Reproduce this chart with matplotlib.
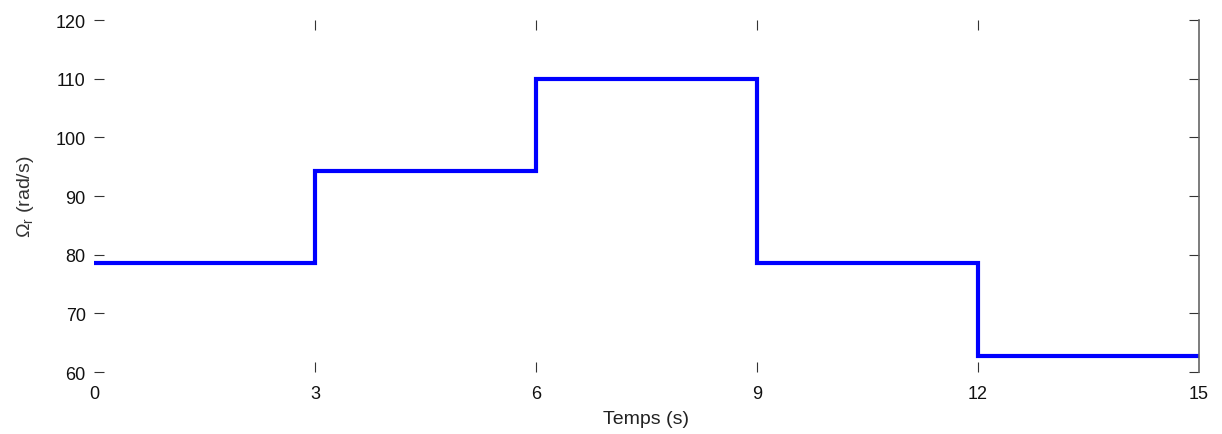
"""
Vitesse rotorique de référence (échelons)
"""
import numpy as np
import matplotlib
matplotlib.use("Agg")
import matplotlib.pyplot as plt
from matplotlib import rcParams

rcParams["font.family"] = "Liberation Sans"
rcParams["mathtext.fontset"] = "custom"
rcParams["mathtext.rm"] = "Liberation Sans"
rcParams["mathtext.it"] = "Liberation Sans"

# instants de changement de consigne (s) et vitesses (rad/s)
t_steps = [0, 3, 6, 9, 12, 15]
omega_r = [78.5, 94.2, 110.0, 78.5, 62.8, 62.8]

x_ticks = [0, 3, 6, 9, 12, 15]
y_ticks = [60, 70, 80, 90, 100, 110, 120]

fig = plt.figure(figsize=(12.22, 4.35), dpi=100)
ax = fig.add_axes([0.0769, 0.1425, 0.9812 - 0.0769, 0.9517 - 0.1425])

ax.step(t_steps, omega_r, where="post", color="#0000ff", linewidth=3,
        solid_joinstyle="miter")

ax.set_xlim(0, 15)
ax.set_ylim(60, 120)
ax.set_xticks(x_ticks)
ax.set_yticks(y_ticks)

for side in ["left", "top", "bottom"]:
    ax.spines[side].set_visible(False)
ax.spines["right"].set_color("#666666")
ax.spines["right"].set_linewidth(1.2)

ax.tick_params(axis="both", direction="in", length=7, width=0.8,
               color="#333333", labelsize=13, labelcolor="#111111",
               top=True, right=True)
ax.tick_params(axis="x", pad=9)
ax.tick_params(axis="y", pad=6)

# pas de marques aux coins (seulement les étiquettes 0 et 15)
for tk in [ax.xaxis.get_major_ticks()[0], ax.xaxis.get_major_ticks()[-1]]:
    tk.tick1line.set_visible(False)
    tk.tick2line.set_visible(False)

ax.set_xlabel("Temps (s)", fontsize=14, color="#222222", labelpad=6)
ax.set_ylabel(r"$\Omega_{\mathrm{r}}$ (rad/s)", fontsize=14, color="#333333",
              labelpad=14)

plt.savefig("out.png", dpi=100)
